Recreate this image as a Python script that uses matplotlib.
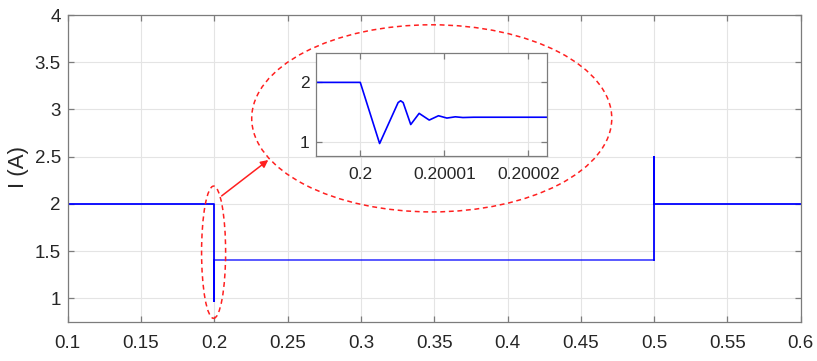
"""Step response of the load current, with a zoomed view of the transient at t = 0.2 s."""

import matplotlib
matplotlib.use("Agg")
import matplotlib.pyplot as plt
from matplotlib.patches import Ellipse

plt.rcParams["font.family"] = ["Liberation Sans", "DejaVu Sans"]

# Full run: 2 A, step down at 0.2 s (undershoot to ~0.97 A), settles at ~1.41 A,
# step back up at 0.5 s with a 2.5 A spike.
t_main = [0.1, 0.2, 0.2, 0.2, 0.5, 0.5, 0.5, 0.6]
i_main = [2.0, 2.0, 0.97, 1.41, 1.41, 2.5, 2.0, 2.0]

# Zoomed transient right after the 0.2 s step
t_zoom = [0.1999947, 0.2, 0.2000023, 0.2000045, 0.2000048, 0.2000051,
          0.2000060, 0.2000070, 0.2000082, 0.2000093, 0.2000103,
          0.2000113, 0.2000122, 0.2000135, 0.2000222]
i_zoom = [2.0, 2.0, 0.97, 1.66, 1.69, 1.66,
          1.29, 1.478, 1.365, 1.438, 1.399,
          1.42, 1.408, 1.413, 1.413]

x_ticks = [0.1, 0.15, 0.2, 0.25, 0.3, 0.35, 0.4, 0.45, 0.5, 0.55, 0.6]
x_labels = ["0.1", "0.15", "0.2", "0.25", "0.3", "0.35", "0.4", "0.45", "0.5", "0.55", "0.6"]
y_ticks = [1, 1.5, 2, 2.5, 3, 3.5, 4]
y_labels = ["1", "1.5", "2", "2.5", "3", "3.5", "4"]
zoom_x_ticks = [0.2, 0.20001, 0.20002]
zoom_x_labels = ["0.2", "0.20001", "0.20002"]
zoom_y_ticks = [1, 2]

SPINE = "#7c7c7c"
TEXT = "#262626"
GRID = "#e4e4e4"


def style_axes(ax, labelsize, xpad, ypad):
    for s in ax.spines.values():
        s.set_color(SPINE)
        s.set_linewidth(0.9)
    ax.tick_params(direction="in", top=True, right=True, length=4, width=0.9,
                   color=SPINE, labelcolor=TEXT, labelsize=labelsize)
    ax.tick_params(axis="x", pad=xpad)
    ax.tick_params(axis="y", pad=ypad)
    ax.grid(True, color=GRID, linewidth=0.8)
    ax.set_axisbelow(True)


fig = plt.figure(figsize=(8.17, 3.61), dpi=100)
ax = fig.add_axes([0.0829, 0.108, 0.8972, 0.8504])

ax.plot(t_main[:4], i_main[:4], color="#0000ff", linewidth=1.3)
ax.plot(t_main[3:5], i_main[3:5], color="#0000ff", linewidth=1.3, alpha=0.7)
ax.plot(t_main[4:], i_main[4:], color="#0000ff", linewidth=1.3)

ax.set_xlim(0.1, 0.6)
ax.set_ylim(0.75, 4)
ax.set_xticks(x_ticks)
ax.set_xticklabels(x_labels)
ax.set_yticks(y_ticks)
ax.set_yticklabels(y_labels)
style_axes(ax, 13.5, xpad=9, ypad=5)
ax.set_ylabel("I (A)", fontsize=16, color=TEXT)
ax.yaxis.set_label_coords(-0.053, 0.505)

# Highlight around the step and the magnified region
dash = (0, (3.2, 2.4))
ax.add_patch(Ellipse((0.1995, 1.489), 0.0164, 1.40, fill=False, edgecolor="#ff2020",
                     linewidth=1.1, linestyle=dash, clip_on=False, zorder=5))
ax.add_patch(Ellipse((0.3483, 2.906), 0.2456, 1.981, fill=False, edgecolor="#ff2020",
                     linewidth=1.1, linestyle=dash, clip_on=False, zorder=5))
ax.annotate("", xy=(0.2368, 2.465), xytext=(0.2050, 2.085),
            arrowprops=dict(arrowstyle="-|>", color="#ff2020", lw=1.1,
                            mutation_scale=11, shrinkA=0, shrinkB=0))

# Inset with the oscillation detail
axi = fig.add_axes([0.3864, 0.5679, 0.2831, 0.2861])
axi.plot(t_zoom, i_zoom, color="#0000ff", linewidth=1.2)
axi.set_xlim(0.1999947, 0.2000222)
axi.set_ylim(0.76, 2.5)
axi.set_xticks(zoom_x_ticks)
axi.set_xticklabels(zoom_x_labels)
axi.set_yticks(zoom_y_ticks)
axi.set_yticklabels(["1", "2"])
style_axes(axi, 12.5, xpad=8, ypad=4.5)

fig.savefig("out.png", dpi=100)
